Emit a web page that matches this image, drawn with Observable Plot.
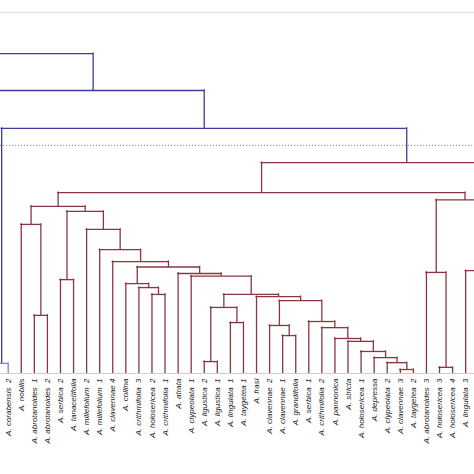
<!DOCTYPE html>
<html>
<head>
<meta charset="utf-8">
<script src="https://cdn.jsdelivr.net/npm/d3@7"></script>
<script src="https://cdn.jsdelivr.net/npm/@observablehq/plot@0.6"></script>
<style>
  html, body { margin: 0; padding: 0; background: #fff; }
</style>
</head>
<body>
<div id="chart"></div>
<script>
// Leaf labels in dendrogram order (visible part of the tree)
const leafLabels = [
  "A. corabensis\u00a0\u00a02", "A. nobilis", "A. abrotanoides\u00a0\u00a01", "A. abrotanoides\u00a0\u00a02",
  "A. serbica\u00a0\u00a02", "A. tanacetifolia", "A. millefolium\u00a0\u00a02", "A. millefolium\u00a0\u00a01",
  "A. clavennae 4", "A. collina", "A. crithmifolia\u00a0\u00a03", "A. holosericea\u00a0\u00a02",
  "A. crithmifolia\u00a0\u00a01", "A. atrata", "A. clypeolata\u00a0\u00a01", "A. ligustica\u00a0\u00a02",
  "A. ligustica\u00a0\u00a01", "A. lingulata\u00a0\u00a01", "A. taygetea 1", "A. frasi",
  "A. clavennae\u00a0\u00a02", "A. clavennae\u00a0\u00a01", "A. grandifolia", "A. serbica\u00a0\u00a01",
  "A. crithmifolia\u00a0\u00a02", "A. pannonica", "A. stricta", "A. holosericea\u00a0\u00a01",
  "A. depressa", "A. clypeolata\u00a0\u00a02", "A. clavennae\u00a0\u00a03", "A. taygetea\u00a0\u00a02",
  "A. abrotanoides\u00a0\u00a03", "A. holosericea\u00a0\u00a03", "A. holosericea\u00a0\u00a04", "A. lingulata\u00a0\u00a03"
];

// Clades lying outside the cropped view: [id, leaf-order position]
const hiddenClades = [["h1", -1], ["h2", -2], ["h3", -10], ["h4", 39.3], ["h5", 41.6]];

// Merges: [node, left child, right child, linkage height]
const merges = [
  ["AI", 30, 31, 1.1], ["H", 33, 34, 1.7], ["corab", "h1", 0, 2.8], ["AH", 29, "AI", 3.0],
  ["Z", 15, 16, 3.3], ["AG", 28, "AH", 4.4], ["AF", 27, "AG", 6.1], ["AE", 26, "AF", 8.9],
  ["AD", 25, "AE", 9.7], ["CG", 21, 22, 10.5], ["AC", 24, "AD", 12.7], ["CL", 20, "CG", 13.3],
  ["AA", 17, 18, 14.1], ["AB", 23, "AC", 14.4], ["L", 2, 3, 16.1], ["Y", "Z", "AA", 18.3],
  ["X3", "CL", "AB", 20.2], ["X2", 19, "X3", 21.3], ["U", 11, 12, 21.9], ["X", "Y", "X2", 21.9],
  ["T", 10, "U", 23.8], ["S", 9, "T", 24.9], ["N", 4, 5, 26.0], ["W", 14, "X", 27.0],
  ["V", 13, "W", 27.7], ["G", 32, "H", 28.0], ["I", 35, "h4", 28.5], ["R", "S", "V", 29.5],
  ["Q", 8, "R", 31.0], ["P", 7, "Q", 34.3], ["O", 6, "P", 39.9], ["K", 1, "L", 41.3],
  ["M", "N", "O", 44.9], ["J", "K", "M", 46.3], ["F", "G", "I", 48.1], ["E", "J", "F", 50.1],
  ["D", "E", "h5", 58.4], ["A", "corab", "D", 67.9], ["B", "h2", "A", 78.4], ["C", "h3", "B", 88.6]
];

const threshold = 63.2;
const clusterColors = [["D", "#8a3642"], ["corab", "#8f80c8"]];
const aboveColor = "#3c3c9e";

// ---- layout (node x = midpoint of its children, as in a dendrogram) ----
const pos = new Map();
leafLabels.forEach((l, i) => pos.set(i, {x: i, h: 0}));
hiddenClades.forEach(([id, x]) => pos.set(id, {x, h: 0}));
const mergeMap = new Map(merges.map(m => [m[0], m]));
function place(key) {
  if (pos.has(key)) return pos.get(key);
  const [, l, r, h] = mergeMap.get(key);
  const L = place(l), R = place(r);
  const p = {x: (L.x + R.x) / 2, h};
  pos.set(key, p);
  return p;
}
merges.forEach(m => place(m[0]));

const parent = new Map();
merges.forEach(([n, l, r]) => { parent.set(l, n); parent.set(r, n); });
const cmap = new Map(clusterColors);
function colorOf(n) {
  const h = mergeMap.get(n)[3];
  if (h > threshold) return aboveColor;
  let cur = n;
  while (parent.has(cur) && mergeMap.get(parent.get(cur))[3] <= threshold) cur = parent.get(cur);
  return cmap.get(cur) || "#8a3642";
}

const hSegs = [], vSegs = [];
merges.forEach(([n, l, r, h]) => {
  const L = pos.get(l), R = pos.get(r), c = colorOf(n);
  hSegs.push({x1: L.x, x2: R.x, y: h, c});
  vSegs.push({x: L.x, y1: L.h, y2: h, c});
  vSegs.push({x: R.x, y1: R.h, y2: h, c});
});

const chart = Plot.plot({
  width: 474,
  height: 474,
  marginLeft: 0,
  marginRight: 0,
  marginTop: 12,
  marginBottom: 101,
  style: {background: "#fff"},
  x: {domain: [-0.589, 35.677], axis: null},
  y: {domain: [0, 100], axis: null},
  color: {type: "identity"},
  marks: [
    Plot.ruleY([100], {stroke: "#e3e3e3", strokeWidth: 1.5}),
    Plot.ruleY([0], {stroke: "#cfcfcf", strokeWidth: 1}),
    Plot.ruleY([threshold], {stroke: "#8a8a8a", strokeWidth: 1, strokeDasharray: "1.2,1.8"}),
    Plot.ruleX(vSegs, {x: "x", y1: "y1", y2: "y2", stroke: "c", strokeWidth: 1.3, strokeLinecap: "square", clip: true}),
    Plot.ruleY(hSegs, {x1: "x1", x2: "x2", y: "y", stroke: "c", strokeWidth: 1.3, strokeLinecap: "square", clip: true}),
    Plot.text(leafLabels, {
      x: (d, i) => i, y: 0, text: d => d, rotate: -90, textAnchor: "end", dy: 5,
      fontSize: 8, fontStyle: "italic", fontFamily: "Liberation Sans, Arial, sans-serif", fill: "#222"
    })
  ]
});
document.getElementById("chart").appendChild(chart);
</script>
</body>
</html>
